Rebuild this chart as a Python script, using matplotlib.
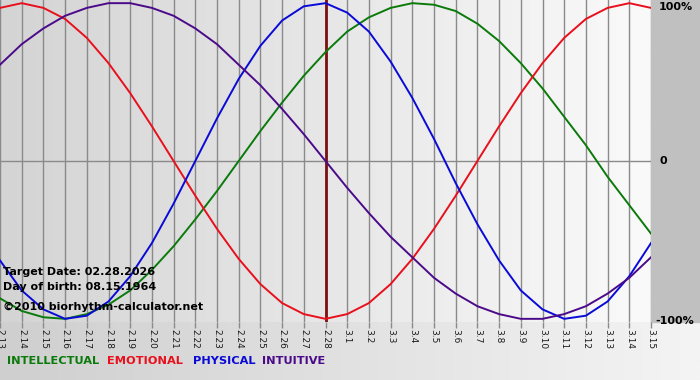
import numpy as np
import matplotlib
matplotlib.use('Agg')
from matplotlib import pyplot as plt
from matplotlib.colors import LinearSegmentedColormap

# dates on the x axis (month.day)
days = ['2.13', '2.14', '2.15', '2.16', '2.17', '2.18', '2.19', '2.20', '2.21', '2.22',
        '2.23', '2.24', '2.25', '2.26', '2.27', '2.28', '3.1', '3.2', '3.3', '3.4',
        '3.5', '3.6', '3.7', '3.8', '3.9', '3.10', '3.11', '3.12', '3.13', '3.14', '3.15']
target_day = '2.28'

# cycle values, -1 .. 1
physical = [-0.63, -0.82, -0.94, -1.00, -0.98, -0.89, -0.73, -0.52, -0.27, 0.00,
            0.27, 0.52, 0.73, 0.89, 0.98, 1.00, 0.94, 0.82, 0.63, 0.40,
            0.14, -0.14, -0.40, -0.63, -0.82, -0.94, -1.00, -0.98, -0.89, -0.73, -0.52]
emotional = [0.97, 1.00, 0.97, 0.90, 0.78, 0.62, 0.43, 0.22, 0.00, -0.22,
             -0.43, -0.62, -0.78, -0.90, -0.97, -1.00, -0.97, -0.90, -0.78, -0.62,
             -0.43, -0.22, 0.00, 0.22, 0.43, 0.62, 0.78, 0.90, 0.97, 1.00, 0.97]
intellectual = [-0.87, -0.95, -0.99, -1.00, -0.97, -0.91, -0.82, -0.69, -0.54, -0.37,
                -0.19, 0.00, 0.19, 0.37, 0.54, 0.69, 0.82, 0.91, 0.97, 1.00,
                0.99, 0.95, 0.87, 0.76, 0.62, 0.46, 0.28, 0.10, -0.10, -0.28, -0.46]
intuitive = [0.61, 0.74, 0.84, 0.92, 0.97, 1.00, 1.00, 0.97, 0.92, 0.84,
             0.74, 0.61, 0.48, 0.33, 0.17, 0.00, -0.17, -0.33, -0.48, -0.61,
             -0.74, -0.84, -0.92, -0.97, -1.00, -1.00, -0.97, -0.92, -0.84, -0.74, -0.61]

names = ['INTELLECTUAL', 'EMOTIONAL', 'PHYSICAL', 'INTUITIVE']
colors = ['#0a7a0a', '#e8101c', '#0a0ad8', '#4b0a8a']
series = [intellectual, emotional, physical, intuitive]

W, H = 700, 380
fig = plt.figure(figsize=(W / 100, H / 100), dpi=100)

# whole-figure background
bg = fig.add_axes([0, 0, 1, 1])
bg.set_axis_off()
grad = np.linspace(0, 1, 256).reshape(1, -1)
bg.imshow(grad, aspect='auto', extent=[0, 1, 0, 1],
          cmap=LinearSegmentedColormap.from_list('b', ['#cfcfcf', '#f4f4f4']))
bg.add_patch(plt.Rectangle((651 / W, (H - 322) / H), 1 - 651 / W, 322 / H,
                           color='#c0c0c0', transform=bg.transAxes, zorder=2))
bg.set_xlim(0, 1)
bg.set_ylim(0, 1)

ax = fig.add_axes([0, (H - 322) / H, 651 / W, 322 / H])
x = np.arange(len(days))
ax.set_xlim(0, len(days) - 1)
ax.set_ylim(-1.02, 1.02)
ax.imshow(grad, aspect='auto', extent=[0, len(days) - 1, -1.02, 1.02], zorder=0,
          cmap=LinearSegmentedColormap.from_list('p', ['#d4d4d4', '#fafafa']))

for xi in x:
    ax.axvline(xi, color='#8a8a8a', lw=1, zorder=1)
ax.axhline(0, color='#8a8a8a', lw=1, zorder=1)
ax.axvline(days.index(target_day), color='#7a1010', lw=2, zorder=2)

for s, c in zip(series, colors):
    ax.plot(x, s, color=c, lw=1.4, zorder=3)

for sp in ax.spines.values():
    sp.set_visible(False)
ax.set_yticks([])
ax.set_xticks(x)
ax.set_xticklabels(days, rotation=-90, fontsize=6.5, color='#1a1a1a')
ax.tick_params(axis='x', length=4, width=1, color='#8a8a8a', pad=1)

ty = lambda py: 1 - py / 322
ax.text(3 / 651, ty(272), 'Target Date: 02.28.2026', transform=ax.transAxes,
        fontsize=8, fontweight='bold', va='center', ha='left', zorder=5)
ax.text(3 / 651, ty(287), 'Day of birth: 08.15.1964', transform=ax.transAxes,
        fontsize=8, fontweight='bold', va='center', ha='left', zorder=5)
ax.text(3 / 651, ty(307), '\u00a92010 biorhythm-calculator.net', transform=ax.transAxes,
        fontsize=8, fontweight='bold', va='center', ha='left', zorder=5)

# right-hand scale labels
fig.text(659 / W, 1 - 7 / H, '100%', fontsize=8, fontweight='bold', va='center', ha='left')
fig.text(660 / W, 1 - 161 / H, '0', fontsize=8, fontweight='bold', va='center', ha='left')
fig.text(655 / W, 1 - 321 / H, '-100%', fontsize=8, fontweight='bold', va='center', ha='left')

# legend row
lx = [7, 107, 193, 262]
for n, c, px in zip(names, colors, lx):
    fig.text(px / W, 1 - 361 / H, n, color=c, fontsize=8.2, fontweight='bold',
             va='center', ha='left')

fig.savefig('out.png', dpi=100)
